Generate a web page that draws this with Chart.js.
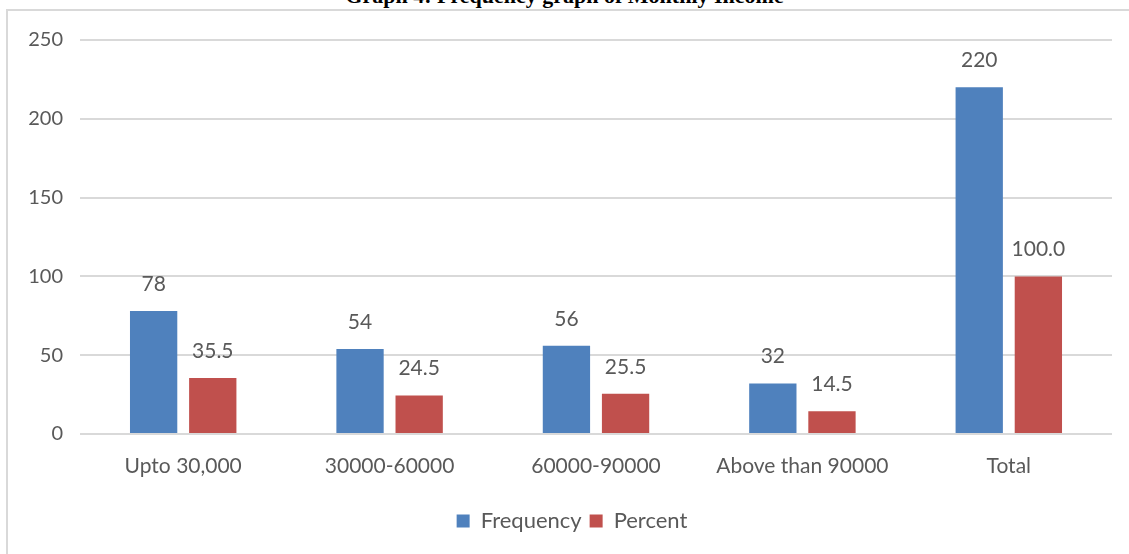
<!DOCTYPE html>
<html>
<head>
<meta charset="utf-8">
<script src="https://cdn.jsdelivr.net/npm/chart.js@4/dist/chart.umd.min.js"></script>
<style>
  html, body { margin: 0; padding: 0; background: #fff; overflow: hidden; }
  #wrap { position: relative; width: 1129px; height: 554px; }
  #title {
    position: absolute; left: 0; width: 1129px; top: -17px;
    text-align: center; font: bold 22px "Liberation Serif", "Times New Roman", serif; color: #000;
  }
  #frame {
    position: absolute; left: 6px; top: 9px; width: 1130px; height: 560px;
    border: 2px solid #d9d9d9; box-sizing: border-box;
  }
  #chart { position: absolute; left: 0; top: 0; }
</style>
</head>
<body>
<div id="wrap">
  <div id="title">Graph 4: Frequency graph of Monthly Income</div>
  <div id="frame"></div>
  <canvas id="chart" width="1129" height="554"></canvas>
</div>
<script>
// chart data
const categories = ['Upto 30,000', '30000-60000', '60000-90000', 'Above than 90000', 'Total'];
const frequency = [78, 54, 56, 32, 220];
const percent = [35.5, 24.5, 25.5, 14.5, 100.0];
const yTicks = [0, 50, 100, 150, 200, 250];

const textColor = '#595959';
const fontFamily = 'Lato, "Open Sans", sans-serif';
const fontSize = 21;

// draws value above each bar
const valueLabels = {
  id: 'valueLabels',
  afterDatasetsDraw(chart) {
    const ctx = chart.ctx;
    ctx.save();
    ctx.fillStyle = textColor;
    ctx.font = fontSize + 'px ' + fontFamily;
    ctx.textAlign = 'center';
    ctx.textBaseline = 'middle';
    chart.data.datasets.forEach((ds, i) => {
      chart.getDatasetMeta(i).data.forEach((bar, j) => {
        const v = ds.data[j];
        const txt = i === 0 ? String(v) : v.toFixed(1);
        ctx.fillText(txt, bar.x, bar.y - 27);
      });
    });
    ctx.restore();
  }
};

// nudge the legend a little to the right, like the original
const legendShift = {
  id: 'legendShift',
  afterLayout(chart) {
    chart.legend.left += 16;
    chart.legend.right += 16;
  }
};

new Chart(document.getElementById('chart').getContext('2d'), {
  type: 'bar',
  data: {
    labels: categories,
    datasets: [
      { label: 'Frequency', data: frequency, backgroundColor: '#4f81bd' },
      { label: 'Percent', data: percent, backgroundColor: '#c0504d' }
    ]
  },
  options: {
    responsive: false,
    animation: false,
    layout: { padding: { top: 40, right: 17, bottom: 12, left: 0 } },
    datasets: { bar: { categoryPercentage: 0.573, barPercentage: 0.8 } },
    scales: {
      x: {
        grid: { display: false, drawTicks: false },
        border: { display: false },
        ticks: { color: textColor, font: { family: fontFamily, size: fontSize }, padding: 20 },
        afterFit(scale) { scale.height = 68; }
      },
      y: {
        min: 0, max: 250,
        afterBuildTicks(scale) { scale.ticks = yTicks.map(v => ({ value: v })); },
        grid: { color: '#d9d9d9', lineWidth: 2, drawTicks: false },
        border: { display: false },
        ticks: { color: textColor, font: { family: fontFamily, size: 20 }, padding: 17 },
        afterFit(scale) { scale.width = 80; }
      }
    },
    plugins: {
      legend: {
        position: 'bottom',
        labels: {
          color: textColor, font: { family: fontFamily, size: 22 },
          boxWidth: 13, boxHeight: 13, padding: 8
        }
      },
      tooltip: { enabled: false }
    }
  },
  plugins: [valueLabels, legendShift]
});
</script>
</body>
</html>
